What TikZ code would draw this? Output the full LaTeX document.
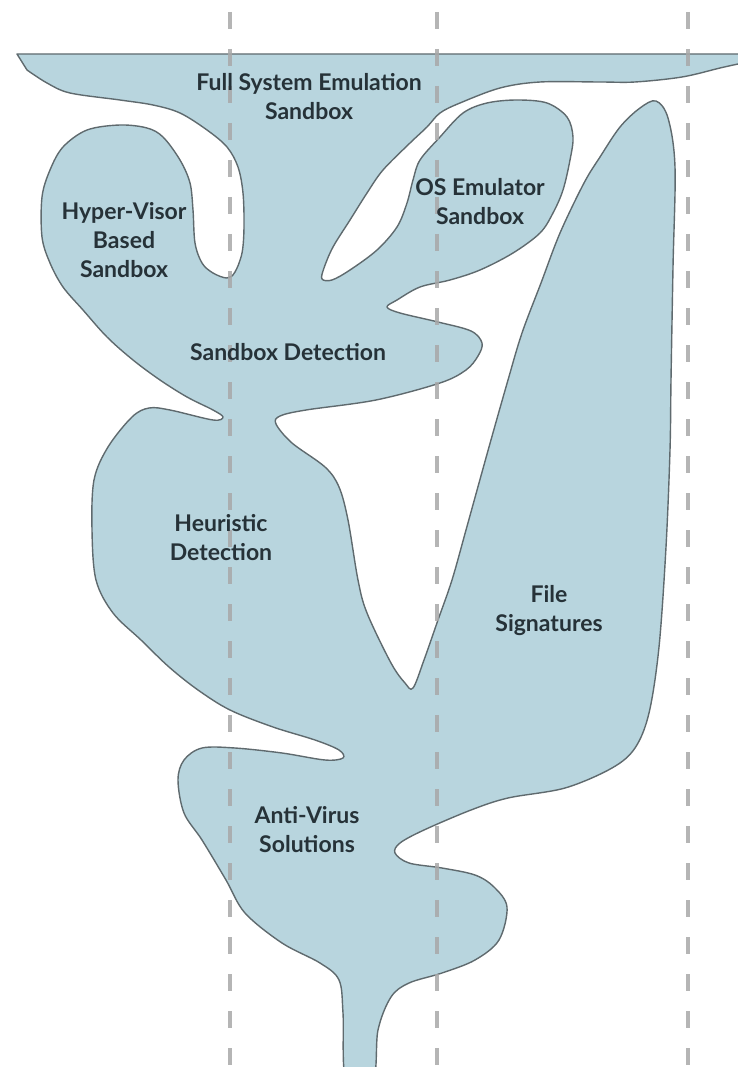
\documentclass[tikz,border=0pt]{standalone}
\usepackage{fontspec}
\setmainfont{Lato}
\definecolor{cfill}{HTML}{B8D5DE}
\definecolor{cedge}{HTML}{5F6A6E}
\definecolor{cdash}{HTML}{A8A8A8}
\definecolor{ctext}{HTML}{263238}
\tikzset{
  every picture/.style={x=1pt, y=-1pt},
  blob/.style={fill=cfill, draw=cedge, line width=1.4pt, line join=round},
  guide/.style={draw=cdash, opacity=0.85, line width=4.5pt, dash pattern=on 17pt off 20pt},
  lbl/.style={font=\bfseries\fontsize{23}{29}\selectfont, text=ctext, align=center, inner sep=0pt},
}
\begin{document}
\begin{tikzpicture}
  \path[use as bounding box, clip] (0,0) rectangle (738,1067);
  % the one organic shape
  \draw[blob] (17,54) -- (765,54) -- plot[smooth, tension=0.55] coordinates {
    (738,64) (720,68) (682,77) (635,82) (600,82) (540,82) (500,88) (460,103) (440,113)
    (427,127) (410,143) (383,170) (367,193) (350,220) (333,247) (324,268) (322,279)
    (332,280) (350,270) (377,250) (397,227) (407,203) (413,180) (420,160) (440,137)
    (463,113) (487,103) (517,100) (547,103) (567,117) (573,137) (570,160) (563,190)
    (553,213) (540,233) (513,253) (480,270) (450,280) (420,287) (397,300) (387,307)
    (400,313) (438,322) (471,331) (482,343) (478,356) (466,370) (440,383) (376,400)
    (306,410) (280,416) (276,424)
    (292,443) (325,467) (339,487) (348,520) (358,580) (367,613) (391,663) (405,683)
    (413,688) (424,660) (438,620) (452,580) (466,530) (489,447) (508,380) (522,333)
    (541,283) (560,233) (584,183) (600,157) (620,127) (640,108) (656,101) (668,118) (675,167)
    (673,267) (671,380) (670,450) (666,547) (659,647) (649,713) (635,748) (612,768)
    (565,788) (508,798) (471,810) (424,830) (400,843) (395,853) (409,863) (442,868)
    (475,875) (494,887) (507,907) (499,940) (475,960) (442,973) (409,983) (391,997)
    (378,1030) (373,1080) (346,1080) (343,1013) (339,980) (320,963) (282,943) (245,913)
    (226,880) (202,840) (184,813) (178,780) (184,760) (202,748) (235,748) (282,753)
    (325,760) (343,758) (339,750) (315,740) (273,727) (230,710) (198,690) (169,667)
    (141,640) (113,613) (96,580) (92,530) (94,480) (108,447) (132,417) (149,408)
    (170,410) (213,420) (223,417) (213,410) (187,397) (160,380) (133,360) (107,337)
    (83,310) (63,287) (50,263) (42,237) (42,197) (50,170) (63,147) (87,130) (120,125)
    (147,128) (163,137) (180,160) (190,183) (193,210) (195,243) (202,263) (213,273)
    (227,278) (235,272) (242,253) (244,227) (243,193) (238,167) (227,147) (207,130)
    (180,113) (153,105) (120,100) (70,93) (47,83) (27,70)} -- cycle;
  % dashed guides
  \foreach \gx in {230, 437, 688}
    \draw[guide] (\gx,12) -- (\gx,1080);
  \node[lbl] (fse) at (309,97) {Full System Emulation\\Sandbox};
  \node[lbl] (osemu) at (480,202) {OS Emulator\\Sandbox};
  \node[lbl] (hyper) at (124,240) {Hyper-Visor\\Based\\Sandbox};
  \node[lbl] (sbdet) at (288,352) {Sandbox Detection};
  \node[lbl] (heur) at (221,538) {Heuristic\\Detection};
  \node[lbl] (filesig) at (549,611) {File\\Signatures};
  \node[lbl] (av) at (307,830) {Anti-Virus\\Solutions};
\end{tikzpicture}
\end{document}
